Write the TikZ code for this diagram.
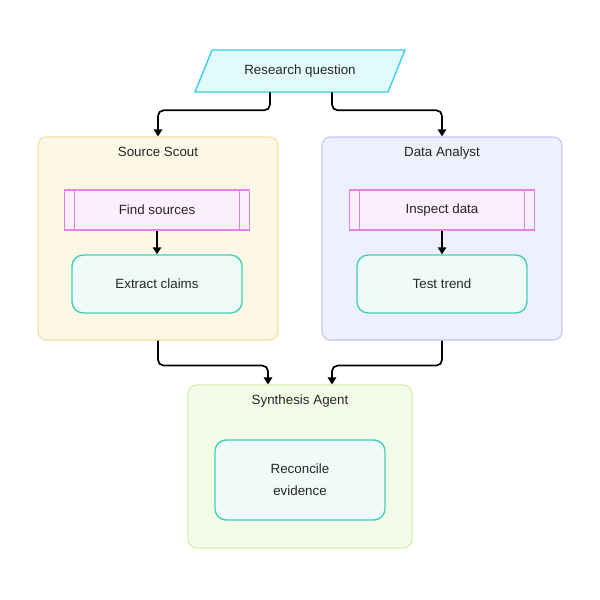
\documentclass[tikz,border=0pt]{standalone}
\usepackage{fontspec}
\setmainfont{Liberation Sans}
\usetikzlibrary{arrows.meta}

\definecolor{qfill}{HTML}{E2FAFE}
\definecolor{qline}{HTML}{3CCCEC}
\definecolor{scoutfill}{HTML}{FDF8E6}
\definecolor{scoutline}{HTML}{F3DFA2}
\definecolor{analystfill}{HTML}{EEF0FD}
\definecolor{analystline}{HTML}{C2C6F3}
\definecolor{synthfill}{HTML}{F5FBE9}
\definecolor{synthline}{HTML}{D9EDB3}
\definecolor{subfill}{HTML}{FDEEFD}
\definecolor{subline}{HTML}{E283EA}
\definecolor{stepfill}{HTML}{EEFBF8}
\definecolor{stepline}{HTML}{42D0B8}

\begin{document}
\begin{tikzpicture}[
		x=0.025cm, y=-0.025cm,
		every node/.style={font=\fontsize{9.5}{11.5}\selectfont, text=black!85},
		group/.style={draw, rounded corners=6pt, line width=0.8pt, inner sep=0pt},
		title/.style={anchor=north},
		sub/.style={draw=subline, fill=subfill, line width=0.8pt, minimum width=185*0.025cm,
			minimum height=40*0.025cm,
			path picture={
				\draw[subline, line width=0.8pt] ([xshift=7pt]path picture bounding box.north west) -- ([xshift=7pt]path picture bounding box.south west);
				\draw[subline, line width=0.8pt] ([xshift=-7pt]path picture bounding box.north east) -- ([xshift=-7pt]path picture bounding box.south east);
			}},
		task/.style={draw=stepline, fill=stepfill, line width=1pt, rounded corners=8pt,
			minimum width=170*0.025cm, minimum height=58*0.025cm, align=center},
		flow/.style={-{Triangle[length=5pt, width=6pt]}, line width=1.2pt, rounded corners=4pt}
		]
	
	\useasboundingbox (0,0) rectangle (600,600);
	
	% Groups
	\node[group, draw=scoutline, fill=scoutfill, minimum width=240*0.025cm, minimum height=203*0.025cm] (scout) at (158,238.5) {};
	\node[title] at (scout.north) [yshift=-4pt] {Source Scout};
	\node[group, draw=analystline, fill=analystfill, minimum width=240*0.025cm, minimum height=203*0.025cm] (analyst) at (442,238.5) {};
	\node[title] at (analyst.north) [yshift=-4pt] {Data Analyst};
	\node[group, draw=synthline, fill=synthfill, minimum width=224*0.025cm, minimum height=163*0.025cm] (synth) at (300,466.5) {};
	\node[title] at (synth.north) [yshift=-4pt] {Synthesis Agent};
	
	% Question
	\draw[qline, fill=qfill, line width=1pt] (195,92) -- (212,50) -- (405,50) -- (388,92) -- cycle;
	\node[minimum height=42*0.025cm, minimum width=190*0.025cm] (question) at (300,71) {Research question};
	
	% Steps
	\node[sub] (find) at (157,210) {Find sources};
	\node[task] (extract) at (157,284) {Extract claims};
	\node[sub] (inspect) at (442,210) {Inspect data};
	\node[task] (trend) at (442,284) {Test trend};
	\node[task, minimum height=80*0.025cm] (reconcile) at (300,480) {Reconcile\\[4pt]evidence};
	
	\draw[flow] (find) -- (extract);
	\draw[flow] (inspect) -- (trend);
	
	% Connectors
	\draw[flow] ([xshift=-0.75cm]question.south) -- ++(0,18) -| (scout.north);
	\draw[flow] ([xshift=0.8cm]question.south) -- ++(0,18) -| (analyst.north);
	\draw[flow] (scout.south) -- ++(0,25) -| ([xshift=-0.8cm]synth.north);
	\draw[flow] (analyst.south) -- ++(0,25) -| ([xshift=0.8cm]synth.north);

\end{tikzpicture}
\end{document}
